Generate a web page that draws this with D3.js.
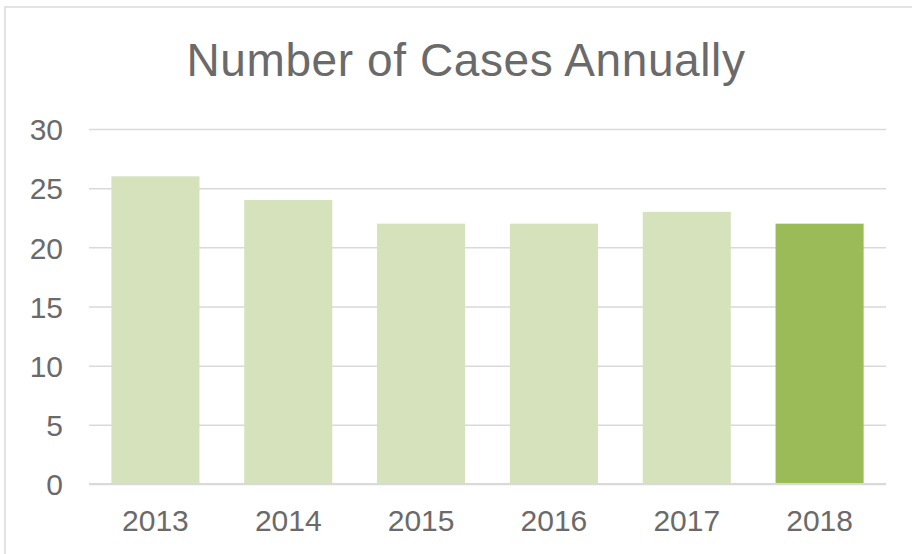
<!DOCTYPE html>
<html>
<head>
<meta charset="utf-8">
<script src="https://cdn.jsdelivr.net/npm/d3@7"></script>
<style>
  html, body { margin: 0; padding: 0; background: #fff; }
  svg { display: block; }
</style>
</head>
<body>
<svg id="chart" width="912" height="554"></svg>
<script>
const years = ["2013", "2014", "2015", "2016", "2017", "2018"];
const cases = [26, 24, 22, 22, 23, 22];
const yTicks = [0, 5, 10, 15, 20, 25, 30];
const title = "Number of Cases Annually";

const svg = d3.select("#chart");
const W = 912, H = 554;
const margin = { left: 89, right: 26, top: 129, bottom: 70 };
const textColor = "#6a6a6a";
const font = "'Liberation Sans', Arial, sans-serif";

// chart border
svg.append("path")
  .attr("d", `M5,${H} L5,7 L${W},7`)
  .attr("fill", "none")
  .attr("stroke", "#e3e3e3")
  .attr("stroke-width", 2);

const x = d3.scaleBand()
  .domain(years)
  .range([margin.left, W - margin.right])
  .paddingInner(0.337)
  .paddingOuter(0.1685);

const y = d3.scaleLinear()
  .domain([0, 30])
  .range([H - margin.bottom, margin.top]);

// gridlines + y labels
const yAxis = d3.axisLeft(y).tickValues(yTicks).tickSize(-(W - margin.right - margin.left));
const gy = svg.append("g")
  .attr("transform", `translate(${margin.left},0)`)
  .call(yAxis);
gy.select(".domain").remove();
gy.selectAll(".tick line").attr("stroke", "#d9d9d9").attr("stroke-width", 1.5);
gy.selectAll(".tick text")
  .attr("fill", textColor)
  .style("font-family", font)
  .style("font-size", "30px")
  .attr("x", -26)
  .attr("dy", "0.36em");

// bars
svg.append("g").selectAll("rect")
  .data(years.map((yr, i) => ({ yr, v: cases[i], i })))
  .join("rect")
  .attr("x", d => x(d.yr))
  .attr("width", x.bandwidth())
  .attr("y", d => y(d.v))
  .attr("height", d => y(0) - y(d.v))
  .attr("fill", d => d.i === years.length - 1 ? "#9bbb59" : "#d6e2bc");

// baseline
svg.append("line")
  .attr("x1", margin.left).attr("x2", W - margin.right)
  .attr("y1", y(0)).attr("y2", y(0))
  .attr("stroke", "#d9d9d9").attr("stroke-width", 2);

// x axis labels
const xAxis = d3.axisBottom(x).tickSize(0).tickPadding(26);
const gx = svg.append("g")
  .attr("transform", `translate(0,${y(0)})`)
  .call(xAxis);
gx.select(".domain").remove();
gx.selectAll(".tick text")
  .attr("fill", textColor)
  .style("font-family", font)
  .style("font-size", "30px");

// title
svg.append("text")
  .attr("x", 466)
  .attr("y", 76)
  .attr("text-anchor", "middle")
  .attr("fill", textColor)
  .style("font-family", font)
  .style("font-size", "46px")
  .style("letter-spacing", "0.6px")
  .text(title);
</script>
</body>
</html>
